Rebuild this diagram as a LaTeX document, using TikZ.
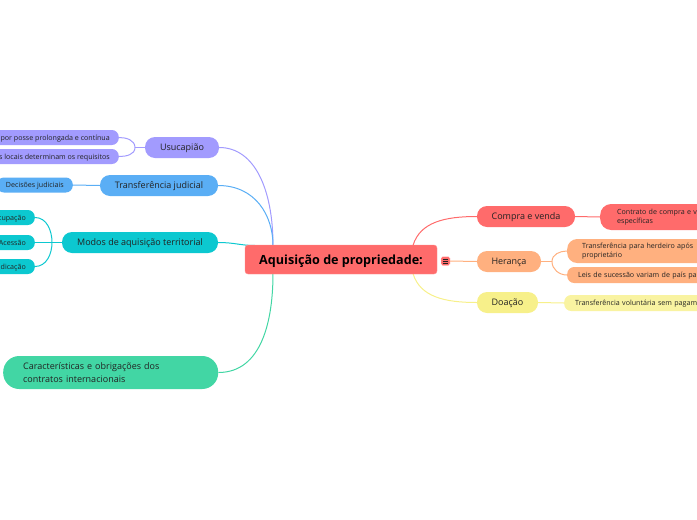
\documentclass[tikz,border=0pt]{standalone}
\usepackage{fontspec}
\setmainfont{Open Sans}
\pgfdeclarelayer{background}
\pgfsetlayers{background,main}
\definecolor{cred}{HTML}{FF6B6B}
\definecolor{corange}{HTML}{FFB07F}
\definecolor{cyellow}{HTML}{F7F08A}
\definecolor{cpurple}{HTML}{A29BFE}
\definecolor{cblue}{HTML}{5AAEF5}
\definecolor{cteal}{HTML}{0CC8D0}
\definecolor{cgreen}{HTML}{42D6A4}
\definecolor{ctext}{HTML}{222222}
\begin{document}
\begin{tikzpicture}[x=1pt,y=-1pt,
  branch/.style={rounded corners=10pt, minimum height=21pt, inner sep=0pt, text=ctext, text depth=0pt,
    font=\fontsize{9}{11}\selectfont},
  leaf/.style={rounded corners=7pt, minimum height=15pt, inner xsep=8pt, inner ysep=0pt, text=ctext,
    font=\fontsize{7.1}{9}\selectfont},
  sleaf/.style={leaf, text depth=0pt},
  conn/.style={line width=1pt}]
\useasboundingbox (0,0) rectangle (697,520);
\clip (0,0) rectangle (697,520);

% central
\node[fill=cred, draw=cred!75!white, rounded corners=3pt, minimum width=192pt, minimum height=29pt,
  inner sep=0pt, text=black, text depth=0pt, font=\fontsize{12.6}{14}\selectfont\bfseries] (central) at (341,259.5) {Aquisição de propriedade:};
\node[fill=cred, draw=white!85!cred, rounded corners=1.5pt, minimum size=9pt, inner sep=0pt] (icon) at (445.5,261) {};
\draw[ctext, line width=0.6pt] (icon.center) ++(-2.2,-2) -- ++(4.4,0) (icon.center) ++(-2.2,0) -- ++(4.4,0) (icon.center) ++(-2.2,2) -- ++(4.4,0);
\coordinate (cTL) at (273,245.5);
\coordinate (cBL) at (273,273.5);
\coordinate (cTR) at (413,245.5);
\coordinate (cBR) at (413,273.5);
\coordinate (cML) at (255,245.5);

% left branches
\node[branch, fill=cpurple, minimum width=74pt] (usu) at (182,147.5) {Usucapião};
\node[sleaf, fill=cpurple, anchor=east, inner xsep=9pt] (u1) at (119,137.5) {Aquisição por posse prolongada e contínua};
\node[sleaf, fill=cpurple, anchor=east, inner xsep=9pt] (u2) at (119,156.5) {Leis locais determinam os requisitos};
\coordinate (ub) at (135,147.5);

\node[branch, fill=cblue, minimum width=118pt] (tj) at (159,185.5) {Transferência judicial};
\node[sleaf, fill=cblue, anchor=east, inner xsep=9pt] (tj1) at (73,185) {Decisões judiciais};

\node[branch, fill=cteal, minimum width=156pt] (modos) at (140,242.5) {Modos de aquisição territorial};
\node[sleaf, fill=cteal, anchor=east, inner xsep=9pt] (m1) at (35,217.5) {Ocupação};
\node[sleaf, fill=cteal, anchor=east, inner xsep=9pt] (m2) at (35,242.5) {Acessão};
\node[sleaf, fill=cteal, anchor=east, inner xsep=9pt] (m3) at (35,266.5) {Adjudicação};
\coordinate (mb) at (52,242.5);

\node[fill=cgreen, rounded corners=16pt, anchor=west, minimum height=33pt, inner xsep=20pt, inner ysep=0pt,
  text=ctext, text width=175pt, align=left, font=\fontsize{9}{12.5}\selectfont] (car) at (3,372.5)
  {Características e obrigações dos\\contratos internacionais};

% right branches
\node[branch, fill=cred, minimum width=98pt] (cv) at (526,216.5) {Compra e venda};
\node[leaf, fill=cred, anchor=west, minimum height=26pt, inner xsep=17pt, text width=150pt, align=left,
  rounded corners=11pt, font=\fontsize{7.1}{9.5}\selectfont] (cv1) at (600,217) {Contrato de compra e venda\\específicas};

\node[branch, fill=corange, minimum width=64pt] (her) at (509,261.5) {Herança};
\node[leaf, fill=corange, anchor=west, minimum height=24pt, inner xsep=15pt, text width=160pt, align=left,
  rounded corners=10pt, font=\fontsize{7.1}{9.5}\selectfont] (h1) at (567,251) {Transferência para herdeiro após\\proprietário};
\node[sleaf, fill=corange, anchor=west, minimum height=16pt, inner xsep=11pt, text width=160pt, align=left] (h2) at (567,275) {Leis de sucessão variam de país para};
\coordinate (hb) at (552,261.5);

\node[branch, fill=cyellow, minimum width=61pt] (doa) at (507.5,302.5) {Doação};
\node[sleaf, fill=cyellow!80!white, anchor=west, minimum height=16pt, inner xsep=11pt, text width=160pt, align=left] (d1) at (564,303) {Transferência voluntária sem pagamento};

\begin{pgfonlayer}{background}
\draw[conn, cpurple] (usu.east) .. controls (255,147.5) and (273,190) .. (cTL);
\draw[conn, cblue] (tj.east) .. controls (255,185.5) and (273,215) .. (cTL);
\draw[conn, cteal] (modos.east) .. controls (235,242.5) and (240,245.5) .. (cML);
\draw[conn, cgreen] (car.east) .. controls (262,372.5) and (273,320) .. (cBL);
\draw[conn, cred] (cTR) .. controls (420,222) and (445,216.5) .. (cv.west);
\draw[conn, corange] (icon.east) -- (her.west);
\draw[conn, cyellow] (cBR) .. controls (420,297) and (445,302.5) .. (doa.west);

\draw[conn, cpurple] (usu.west) -- (ub);
\draw[conn, cpurple] (u1.east) to[out=0,in=90] (ub) to[out=-90,in=0] (u2.east);
\draw[conn, cblue] (tj.west) -- (tj1.east);
\draw[conn, cteal] (modos.west) -- (mb) -- (m2.east);
\draw[conn, cteal] (m1.east) to[out=0,in=90] (mb) to[out=-90,in=0] (m3.east);
\draw[conn, cred] (cv.east) -- (cv1.west);
\draw[conn, corange] (her.east) -- (hb);
\draw[conn, corange] (h1.west) to[out=180,in=90] (hb) to[out=-90,in=180] (h2.west);
\draw[conn, cyellow] (doa.east) -- (d1.west);
\end{pgfonlayer}
\end{tikzpicture}
\end{document}
